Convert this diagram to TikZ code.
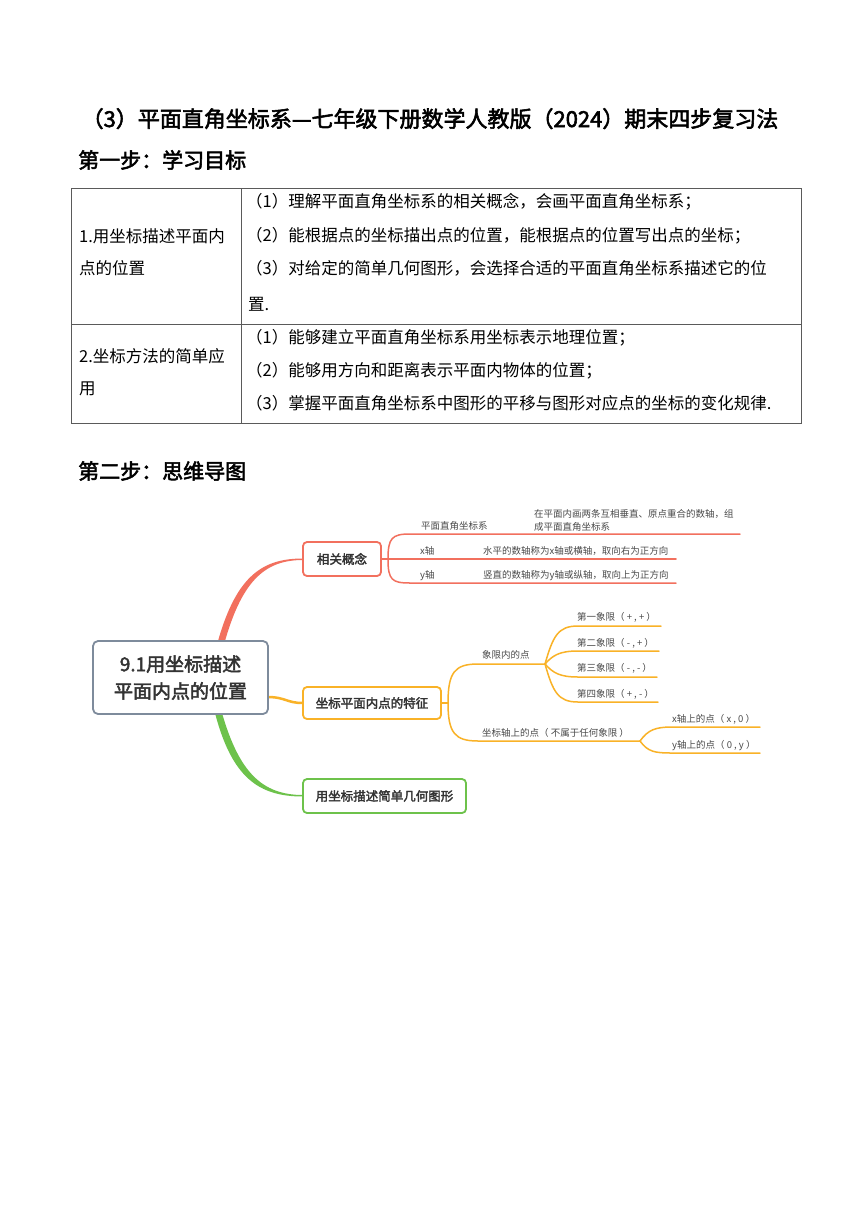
\documentclass[tikz,border=0pt]{standalone}
\usepackage{fontspec}
\setmainfont{Liberation Serif}
\newfontfamily\cjk{Noto Sans CJK SC}
\newfontfamily\cjkb[FakeBold=2.5]{Noto Sans CJK SC}
\usetikzlibrary{calc}
\definecolor{redb}{HTML}{F2705E}
\definecolor{orab}{HTML}{F9B227}
\definecolor{grnb}{HTML}{6DC24B}
\definecolor{rootb}{HTML}{7E8B9C}
\definecolor{txtd}{HTML}{333333}
\definecolor{txtl}{HTML}{4A4A4A}
\definecolor{tline}{HTML}{5A5A5A}
\tikzset{
  titletxt/.style={anchor=base, inner sep=0, font=\cjkb\fontsize{22}{24}\selectfont},
  headtxt/.style={anchor=base west, inner sep=0, font=\cjkb\fontsize{21}{24}\selectfont},
  tabtxt/.style={anchor=base west, inner sep=0, font=\cjk\fontsize{16.5}{20}\selectfont},
  rootbox/.style={draw=rootb, line width=1.8, rounded corners=5, fill=white, minimum width=175, minimum height=73, align=center, text=txtd, inner sep=0, font=\cjkb\fontsize{19}{27}\selectfont},
  topicbox/.style={draw=#1, line width=1.8, rounded corners=4, fill=white, minimum height=33, inner sep=0, text=txtd, font=\cjkb\fontsize{12.5}{14}\selectfont},
  lbl/.style={anchor=base west, inner sep=0, text=txtl, font=\cjk\fontsize{9.5}{13}\selectfont},
  subline/.style={line width=1.5, line cap=round}
}
\begin{document}
\begin{tikzpicture}[x=1pt,y=-1pt]
\useasboundingbox (0,0) rectangle (860,1216);
\fill[white] (0,0) rectangle (860,1216);

% title and headings
\node[titletxt] (title) at (430,127) {（3）平面直角坐标系—七年级下册数学人教版（2024）期末四步复习法};
\node[headtxt] (step1) at (78,168) {第一步：学习目标};
\node[headtxt] (step2) at (78,479) {第二步：思维导图};

% table
\draw[tline, line width=0.8] (71,188) rectangle (801,423);
\draw[tline, line width=0.8] (241,188) -- (241,423);
\draw[tline, line width=0.8] (71,324) -- (801,324);

\node[tabtxt] (l1a) at (79,242) {1.用坐标描述平面内};
\node[tabtxt] (l1b) at (79,274) {点的位置};
\node[tabtxt] (l2a) at (79,362) {2.坐标方法的简单应};
\node[tabtxt] (l2b) at (79,394) {用};

\node[tabtxt] (r1a) at (246,207) {（1）理解平面直角坐标系的相关概念，会画平面直角坐标系；};
\node[tabtxt] (r1b) at (246,241) {（2）能根据点的坐标描出点的位置，能根据点的位置写出点的坐标；};
\node[tabtxt] (r1c) at (246,274) {（3）对给定的简单几何图形，会选择合适的平面直角坐标系描述它的位};
\node[tabtxt] (r1d) at (248,310) {置.};
\node[tabtxt] (r2a) at (246,343) {（1）能够建立平面直角坐标系用坐标表示地理位置；};
\node[tabtxt] (r2b) at (246,376) {（2）能够用方向和距离表示平面内物体的位置；};
\node[tabtxt] (r2c) at (246,409) {（3）掌握平面直角坐标系中图形的平移与图形对应点的坐标的变化规律.};

% mind map nodes (positions)
\coordinate (rootc) at (180.5,677.5);
\coordinate (c1c) at (342,559);
\coordinate (c2c) at (372,703);
\coordinate (c3c) at (384.5,796);

% main branches
\fill[redb] (218,641) .. controls (237,574) and (264,558.5) .. (303,558.5) -- (303,560) .. controls (267,560) and (243,578) .. (225,641) -- cycle;
\fill[grnb] (215,713) .. controls (232,778) and (259,796.5) .. (303,796.5) -- (303,795) .. controls (262,795) and (239,772) .. (222,713) -- cycle;
\draw[orab, line width=2.5] (267,697) .. controls (286,697) and (286,703) .. (303,703);

% nodes
\node[rootbox] (root) at (rootc) {9.1用坐标描述\\平面内点的位置};
\node[topicbox=redb, minimum width=78, minimum height=34] (c1) at (c1c) {相关概念};
\node[topicbox=orab, minimum width=138, minimum height=32] (c2) at (c2c) {坐标平面内点的特征};
\node[topicbox=grnb, minimum width=163, minimum height=34] (c3) at (c3c) {用坐标描述简单几何图形};

% red sub branches
\coordinate (f1) at (388,559);
\coordinate (e1a) at (740,534);
\coordinate (e1b) at (676,559);
\coordinate (e1c) at (676,583);
\draw[redb, subline] (c1.east) -- (f1);
\draw[redb, subline] (f1) .. controls (388,538) and (392,534) .. (410,534) -- (e1a);
\draw[redb, subline] (f1) -- (e1b);
\draw[redb, subline] (f1) .. controls (388,580) and (392,583) .. (410,583) -- (e1c);

\node[lbl] (t1) at (421,529) {平面直角坐标系};
\node[lbl] (d1a) at (534,517) {在平面内画两条互相垂直、原点重合的数轴，组};
\node[lbl] (d1b) at (534,530) {成平面直角坐标系};
\node[lbl] (t2) at (420,554) {x轴};
\node[lbl] (d2) at (483,554) {水平的数轴称为x轴或横轴，取向右为正方向};
\node[lbl] (t3) at (420,578) {y轴};
\node[lbl] (d3) at (483,578) {竖直的数轴称为y轴或纵轴，取向上为正方向};

% orange sub branches
\coordinate (f2) at (448,703);
\coordinate (f3) at (545,664);
\coordinate (f4) at (640,741);
\draw[orab, subline] (c2.east) -- (f2);
\draw[orab, subline] (f2) .. controls (448,672) and (455,664) .. (478,664) -- (f3);
\draw[orab, subline] (f2) .. controls (448,733) and (455,741) .. (478,741) -- (f4);

\coordinate (q1) at (661,626);
\coordinate (q2) at (659,651);
\coordinate (q3) at (657,677);
\coordinate (q4) at (658,702);
\draw[orab, subline] (f3) .. controls (553,636) and (558,626) .. (578,626) -- (q1);
\draw[orab, subline] (f3) .. controls (553,655) and (560,651) .. (578,651) -- (q2);
\draw[orab, subline] (f3) .. controls (553,673) and (560,677) .. (578,677) -- (q3);
\draw[orab, subline] (f3) .. controls (553,692) and (558,702) .. (578,702) -- (q4);

\coordinate (a1) at (760,727);
\coordinate (a2) at (760,753);
\draw[orab, subline] (f4) .. controls (648,730) and (655,727) .. (672,727) -- (a1);
\draw[orab, subline] (f4) .. controls (648,752) and (655,753) .. (672,753) -- (a2);

\node[lbl] (s1) at (482,658) {象限内的点};
\node[lbl] (s2) at (482,736) {坐标轴上的点（ 不属于任何象限 ）};
\node[lbl] (p1) at (577,620) {第一象限（ + , + ）};
\node[lbl] (p2) at (577,646) {第二象限（ - , + ）};
\node[lbl] (p3) at (577,671) {第三象限（ - , - ）};
\node[lbl] (p4) at (577,697) {第四象限（ + , - ）};
\node[lbl] (x1) at (672,722) {x轴上的点（ x , 0 ）};
\node[lbl] (y1) at (672,748) {y轴上的点（ 0 , y ）};
\end{tikzpicture}
\end{document}
